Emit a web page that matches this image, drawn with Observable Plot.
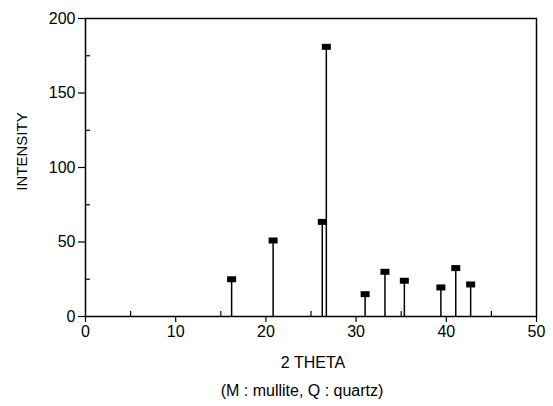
<!DOCTYPE html>
<html>
<head>
<meta charset="utf-8">
<script src="https://cdn.jsdelivr.net/npm/d3@7"></script>
<script src="https://cdn.jsdelivr.net/npm/@observablehq/plot@0.6"></script>
<style>
  html, body { margin: 0; padding: 0; background: #fff; }
  svg { display: block; }
</style>
</head>
<body>
<div id="chart"></div>
<script>
const theta = [16.2, 20.8, 26.25, 26.7, 31.0, 33.2, 35.35, 39.4, 41.05, 42.7];
const intensity = [25, 51, 63.5, 181, 15, 30, 24, 19.5, 32.5, 21.5];
const xTicks = [0, 10, 20, 30, 40, 50];
const xMinorTicks = [5, 15, 25, 35, 45];
const yTicks = [0, 50, 100, 150, 200];
const yMinorTicks = [25, 75, 125, 175];
const xLabel = "2 THETA";
const yLabel = "INTENSITY";
const captionText = "(M : mullite, Q : quartz)";

const peaks = theta.map((t, i) => ({theta: t, intensity: intensity[i]}));

const rectSymbol = {
  draw(context) {
    const w = 9, h = 6;
    context.rect(-w / 2, -h / 2, w, h);
  }
};

const font = "'Liberation Sans', Arial, Helvetica, sans-serif";

const chart = Plot.plot({
  width: 553,
  height: 406,
  marginLeft: 85,
  marginRight: 17,
  marginTop: 18,
  marginBottom: 90,
  style: {fontFamily: font, fontSize: "15px", color: "#000", background: "#fff"},
  x: {domain: [0, 50]},
  y: {domain: [0, 200]},
  marks: [
    Plot.frame({stroke: "#000", strokeWidth: 1.5}),
    Plot.axisX(xTicks, {tickSize: 6, tickPadding: 3, fontSize: 16, label: null, strokeWidth: 1.2}),
    Plot.axisX(xMinorTicks, {tickSize: -5, text: null, label: null, strokeWidth: 1.2}),
    Plot.axisY(yTicks, {tickSize: 7, tickPadding: 3, fontSize: 16, label: null, strokeWidth: 1.2}),
    Plot.axisY(yMinorTicks, {tickSize: -5, text: null, label: null, strokeWidth: 1.2}),
    Plot.ruleX(peaks, {x: "theta", y1: 0, y2: "intensity", stroke: "#000", strokeWidth: 1.5}),
    Plot.dot(peaks, {x: "theta", y: "intensity", symbol: rectSymbol, fill: "#000", stroke: "none"}),
    Plot.text([xLabel], {frameAnchor: "bottom", dx: 2, dy: 51, fontSize: 16, fill: "#000"}),
    Plot.text([captionText], {frameAnchor: "bottom", dx: -9, dy: 79, fontSize: 16, fill: "#000"}),
    Plot.text([yLabel], {frameAnchor: "left", textAnchor: "middle", rotate: -90, dx: -63, dy: -16, fontSize: 15, fill: "#000"})
  ]
});
document.getElementById("chart").appendChild(chart);
</script>
</body>
</html>
